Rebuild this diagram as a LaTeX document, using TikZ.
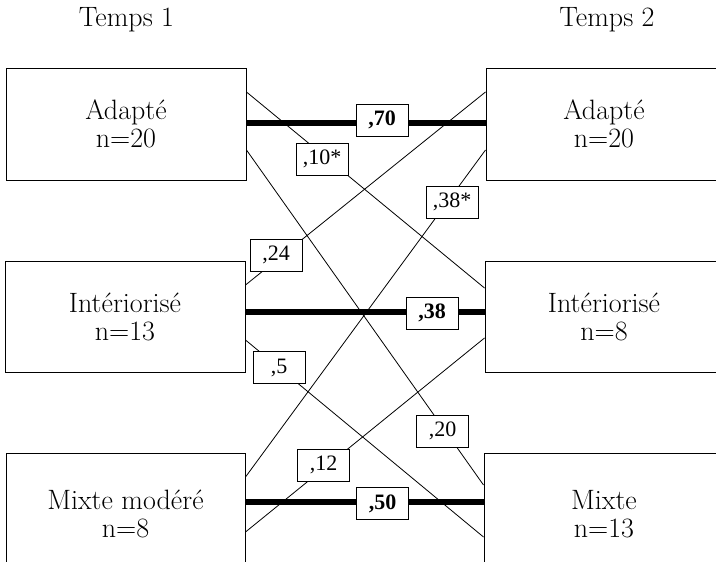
\documentclass[tikz,border=0pt]{standalone}
\usepackage{fontspec}
\newfontfamily\numfont{Liberation Serif}
\begin{document}
\begin{tikzpicture}[x=1pt,y=-1pt,
  box/.style={draw=black,line width=1pt,fill=white,align=center,inner sep=0pt,
    font=\fontsize{28}{28}\selectfont},
  lbl/.style={draw=black,line width=0.8pt,fill=white,minimum width=52pt,minimum height=32pt,
    inner sep=0pt,font=\numfont\fontsize{22}{24}\selectfont},
  blbl/.style={lbl,font=\numfont\bfseries\fontsize{22}{24}\selectfont},
  thin/.style={line width=0.8pt},
  thick/.style={line width=5.5pt},
  title/.style={font=\fontsize{28}{28}\selectfont}]
\useasboundingbox (0,0) rectangle (716,562);
\clip (0,0) rectangle (716,562);
\fill[white] (0,0) rectangle (716,562);
% titles
\node[title] (t1) at (126.5,20) {Temps 1};
\node[title] (t2) at (607,20) {Temps 2};
% boxes
\node[box,minimum width=240pt,minimum height=112pt] (A1) at (126,124) {Adapté\\n=20};
\node[box,minimum width=240pt,minimum height=111pt] (I1) at (125,316.5) {Intériorisé\\n=13};
\node[box,minimum width=239pt,minimum height=122pt] (M1) at (125.5,514) {Mixte modéré\\n=8};
\node[box,minimum width=236pt,minimum height=112pt] (A2) at (604,124) {Adapté\\n=20};
\node[box,minimum width=238pt,minimum height=111pt] (I2) at (604,316.5) {Intériorisé\\n=8};
\node[box,minimum width=240pt,minimum height=122pt] (M2) at (604,514) {Mixte\\n=13};
% thin cross lines
\draw[thin] ([yshift=32pt]A1.east) -- ([yshift=28.5pt]I2.west);
\draw[thin] ([yshift=-26pt]A1.east) -- ([yshift=29pt]M2.west);
\draw[thin] ([yshift=32pt]A2.west) -- ([yshift=31.5pt]I1.east);
\draw[thin] ([yshift=-26pt]A2.west) -- ([yshift=37pt]M1.east);
\draw[thin] ([yshift=-23.5pt]I1.east) -- ([yshift=-23pt]M2.west);
\draw[thin] ([yshift=-21.5pt]I2.west) -- ([yshift=-18pt]M1.east);
% thick lines
\draw[thick] ([yshift=1pt]A1.east) -- ([yshift=1pt]A2.west);
\draw[thick] ([yshift=4.5pt]I1.east) -- ([yshift=4.5pt]I2.west);
\draw[thick] ([yshift=12pt]M1.east) -- ([yshift=12pt]M2.west);
% labels
\node[blbl] (l70) at (382,120) {,70};
\node[blbl] (l38) at (432,313) {,38};
\node[blbl] (l50) at (382.5,503.5) {,50};
\node[lbl] (l10) at (322,159) {,10*};
\node[lbl] (l38s) at (452,202) {,38*};
\node[lbl] (l24) at (276,255) {,24};
\node[lbl] (l5) at (279,367.5) {,5};
\node[lbl] (l12) at (323.5,465) {,12};
\node[lbl] (l20) at (442.5,431) {,20};
\end{tikzpicture}
\end{document}
